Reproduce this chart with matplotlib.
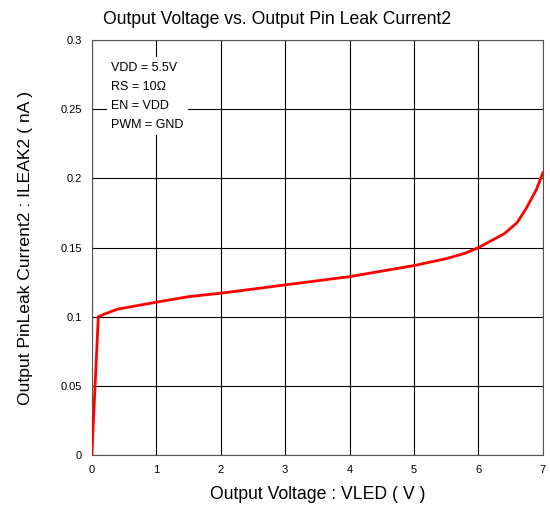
import matplotlib.pyplot as plt

plt.rcParams['font.family'] = ['Liberation Sans', 'DejaVu Sans']

# data
vled = [0, 0.1, 0.2, 0.4, 0.7, 1.0, 1.5, 2.0, 2.5, 3.0, 3.5, 4.0, 4.5, 5.0, 5.5,
        5.8, 6.0, 6.2, 6.4, 6.6, 6.75, 6.9, 7.0]
ileak = [0, 0.100, 0.102, 0.1055, 0.108, 0.1105, 0.1145, 0.117, 0.120, 0.123,
         0.126, 0.129, 0.133, 0.137, 0.142, 0.146, 0.150, 0.155, 0.160, 0.168,
         0.179, 0.192, 0.204]

xticks = [0, 1, 2, 3, 4, 5, 6, 7]
yticks = [0, 0.05, 0.1, 0.15, 0.2, 0.25, 0.3]
ytick_labels = ['0', '0.05', '0.1', '0.15', '0.2', '0.25', '0.3']

fig = plt.figure(figsize=(5.5, 5.15), dpi=100)
ax = fig.add_axes([0.167, 0.1165, 0.82, 0.8055])

ax.plot(vled, ileak, color='#ff0000', linewidth=2, zorder=3)

ax.set_xlim(0, 7)
ax.set_ylim(0, 0.3)
ax.set_xticks(xticks)
ax.set_yticks(yticks)
ax.set_yticklabels(ytick_labels)
ax.tick_params(length=0, labelsize=8, pad=7)
ax.grid(True, color='black', linewidth=0.8)
for s in ax.spines.values():
    s.set_color('#555555')
    s.set_linewidth(0.8)

fig.text(0.5045, 0.963, 'Output Voltage vs. Output Pin Leak Current2',
         fontsize=12.7, ha='center', va='center')
ax.set_xlabel('Output Voltage : VLED ( V )', fontsize=12.7, labelpad=8)
ax.set_ylabel('Output PinLeak Current2 : ILEAK2 ( nA )', fontsize=12.6,
              labelpad=20)

ax.text(0.3, 0.2845, 'VDD = 5.5V\nRS = 10Ω\nEN = VDD\nPWM = GND',
        fontsize=9, va='top', ha='left', linespacing=1.78, zorder=4,
        bbox=dict(facecolor='white', edgecolor='none', pad=3))

fig.savefig('out.png', dpi=100)
